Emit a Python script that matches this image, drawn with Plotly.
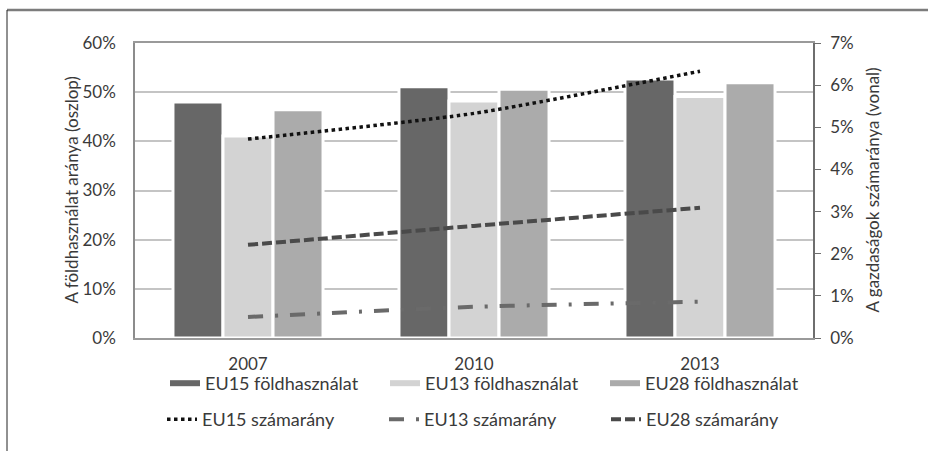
import plotly.graph_objects as go

# Categories (years)
years = ["2007", "2010", "2013"]

# Share of land use, % (bars, left axis)
eu15_land = [48.0, 51.1, 52.7]
eu13_land = [41.1, 48.2, 49.1]
eu28_land = [46.4, 50.6, 51.9]

# Share of farm numbers, % (lines, right axis)
eu15_share = [4.72, 5.33, 6.33]
eu13_share = [0.50, 0.74, 0.86]
eu28_share = [2.21, 2.66, 3.09]

bar_names = ["EU15 földhasználat", "EU13 földhasználat", "EU28 földhasználat"]
line_names = ["EU15 számarány", "EU13 számarány", "EU28 számarány"]

left_title = "A földhasználat aránya (oszlop)"
right_title = "A gazdaságok számaránya (vonal)"

left_ticks = [0, 10, 20, 30, 40, 50, 60]
left_labels = ["0%", "10%", "20%", "30%", "40%", "50%", "60%"]
right_ticks = [0, 1, 2, 3, 4, 5, 6, 7]
right_labels = ["0%", "1%", "2%", "3%", "4%", "5%", "6%", "7%"]

bar_colors = ["#676767", "#d3d3d3", "#ababab"]
line_styles = [
    dict(color="#111111", width=3.5, dash="3.5px,3.5px"),
    dict(color="#6a6a6a", width=4, dash="15px,12px,3px,12px"),
    dict(color="#4a4a4a", width=4, dash="10px,4px"),
]

FONT = "Lato, 'Open Sans', sans-serif"
TXT = "#3a3a3a"

W, H = 928, 451
ML, MR, MT, MB = 135, 115, 43, 113
PW, PH = W - ML - MR, H - MT - MB


def px_x(px):
    return (px - ML) / PW


def px_y(py):
    return (H - MB - py) / PH


fig = go.Figure()

for vals, name, col in zip([eu15_land, eu13_land, eu28_land], bar_names, bar_colors):
    fig.add_trace(go.Bar(
        x=years, y=vals, name=name, showlegend=False,
        marker=dict(color=col, line=dict(color="white", width=3)),
        yaxis="y",
    ))
    # legend swatch for the bar series
    fig.add_trace(go.Scatter(
        x=[None], y=[None], mode="lines", name=name, legend="legend",
        line=dict(color=col, width=6), hoverinfo="skip",
    ))

for vals, name, st in zip([eu15_share, eu13_share, eu28_share], line_names, line_styles):
    fig.add_trace(go.Scatter(
        x=years, y=vals, name=name, mode="lines", yaxis="y2",
        line=dict(shape="spline", smoothing=0.6, **st), legend="legend2",
    ))

fig.update_layout(
    width=W, height=H,
    margin=dict(l=ML, r=MR, t=MT, b=MB, pad=0),
    paper_bgcolor="white", plot_bgcolor="white",
    font=dict(family=FONT, size=17, color=TXT),
    barmode="group", bargap=0.336, bargroupgap=0,
    xaxis=dict(
        type="category", showgrid=False, showline=True, linecolor="#9a9a9a",
        linewidth=1.5, mirror=True, ticks="", ticklabelstandoff=10,
        tickfont=dict(size=17, color=TXT),
    ),
    yaxis=dict(
        range=[0, 60], tickmode="array", tickvals=left_ticks, ticktext=left_labels,
        showgrid=True, gridcolor="#c4c4c4", gridwidth=1.6,
        showline=True, linecolor="#8c8c8c", linewidth=1.5,
        zeroline=False, ticks="", ticklabelstandoff=14,
    ),
    yaxis2=dict(
        range=[0, 7], tickmode="array", tickvals=right_ticks, ticktext=right_labels,
        overlaying="y", side="right", showgrid=False,
        showline=True, linecolor="#6e6e6e", linewidth=1.5,
        zeroline=False, ticks="outside", ticklen=6, tickcolor="#6e6e6e",
        ticklabelstandoff=6,
    ),
    annotations=[
        dict(text=left_title, xref="paper", yref="paper", x=px_x(71), y=0.5,
             xanchor="center", yanchor="middle", textangle=-90, showarrow=False,
             font=dict(size=17, color=TXT)),
        dict(text=right_title, xref="paper", yref="paper", x=px_x(872), y=0.5,
             xanchor="center", yanchor="middle", textangle=-90, showarrow=False,
             font=dict(size=17, color=TXT)),
    ],
    legend=dict(
        orientation="h", x=px_x(165), y=px_y(383.5), xanchor="left",
        yanchor="middle", entrywidth=175, entrywidthmode="pixels",
        font=dict(size=18, color=TXT), bgcolor="rgba(0,0,0,0)",
        traceorder="normal",
    ),
    legend2=dict(
        orientation="h", x=px_x(162), y=px_y(419.5), xanchor="left",
        yanchor="middle", entrywidth=177, entrywidthmode="pixels",
        font=dict(size=18, color=TXT), bgcolor="rgba(0,0,0,0)",
        traceorder="normal",
    ),
    shapes=[
        dict(type="line", xref="paper", yref="paper",
             x0=px_x(7), x1=px_x(935), y0=px_y(10), y1=px_y(10),
             line=dict(color="#7c7c7c", width=2.5)),
        dict(type="line", xref="paper", yref="paper",
             x0=px_x(7), x1=px_x(7), y0=px_y(10), y1=px_y(460),
             line=dict(color="#222222", width=1)),
    ],
    hovermode=False,
)

fig.write_html("out.html")
